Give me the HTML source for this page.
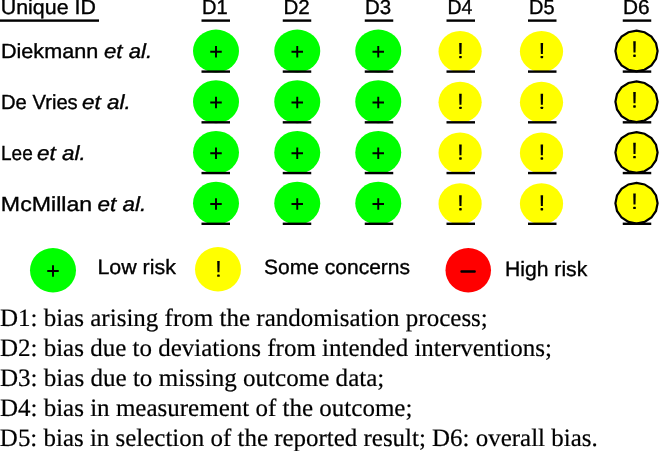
<!DOCTYPE html>
<html><head><meta charset="utf-8"><style>
html,body{margin:0;padding:0;background:#fff;width:660px;height:451px;overflow:hidden}
svg{display:block;will-change:transform}
text{font-family:"Liberation Sans", sans-serif;fill:#000;stroke:#000;stroke-width:0.35px;text-rendering:geometricPrecision}
text.r{font-family:"Liberation Serif", serif;stroke-width:0.2px}
</style></head><body>
<svg width="660" height="451" viewBox="0 0 660 451">
<g class="s">
<text x="0.75" y="14.4" font-size="20.3" textLength="95.12" lengthAdjust="spacingAndGlyphs">Unique ID</text>
<rect x="0" y="19.4" width="99" height="2.4" fill="#000"/>
<text x="202.01" y="14.4" font-size="20.3" textLength="25.66" lengthAdjust="spacingAndGlyphs">D1</text>
<rect x="201.5" y="19.4" width="28.5" height="2.4" fill="#000"/>
<text x="283.49" y="14.4" font-size="20.3" textLength="26.26" lengthAdjust="spacingAndGlyphs">D2</text>
<rect x="282.75" y="19.4" width="28.5" height="2.4" fill="#000"/>
<text x="364.99" y="14.4" font-size="20.3" textLength="26.14" lengthAdjust="spacingAndGlyphs">D3</text>
<rect x="364.75" y="19.4" width="28.5" height="2.4" fill="#000"/>
<text x="447.54" y="14.4" font-size="20.3" textLength="24.9" lengthAdjust="spacingAndGlyphs">D4</text>
<rect x="446.5" y="19.4" width="28.5" height="2.4" fill="#000"/>
<text x="529.02" y="14.4" font-size="20.3" textLength="25.54" lengthAdjust="spacingAndGlyphs">D5</text>
<rect x="528.0" y="19.4" width="28.5" height="2.4" fill="#000"/>
<text x="622.97" y="14.4" font-size="20.3" textLength="26.64" lengthAdjust="spacingAndGlyphs">D6</text>
<rect x="622.75" y="19.4" width="28.5" height="2.4" fill="#000"/>
<text x="0.93" y="58.2" font-size="20.3" textLength="97.31" lengthAdjust="spacingAndGlyphs">Diekmann</text>
<text x="104.0" y="58.2" font-size="20.3" font-style="italic" textLength="48.17" lengthAdjust="spacingAndGlyphs">et al.</text>
<ellipse cx="216" cy="51.0" rx="23" ry="21.5" fill="#00ff00"/>
<path d="M210.25 51.75H221.75M216 45.95V57.55" stroke="#000" stroke-width="1.9" fill="none"/>
<rect x="201.5" y="70.4" width="28.5" height="2.4" fill="#000"/>
<ellipse cx="297.25" cy="51.0" rx="23" ry="21.5" fill="#00ff00"/>
<path d="M291.5 51.75H303.0M297.25 45.95V57.55" stroke="#000" stroke-width="1.9" fill="none"/>
<rect x="282.75" y="70.4" width="28.5" height="2.4" fill="#000"/>
<ellipse cx="378.25" cy="51.0" rx="23" ry="21.5" fill="#00ff00"/>
<path d="M372.5 51.75H384.0M378.25 45.95V57.55" stroke="#000" stroke-width="1.9" fill="none"/>
<rect x="364.75" y="70.4" width="28.5" height="2.4" fill="#000"/>
<ellipse cx="460.1" cy="51.5" rx="21.6" ry="20.5" fill="#ffff00"/>
<path d="M459.20 43.10H461.70L461.45 53.90H459.45Z" fill="#000"/>
<rect x="459.15" y="55.90" width="2.6" height="2.30" rx="0.6" fill="#000"/>
<rect x="446.5" y="70.4" width="28.5" height="2.4" fill="#000"/>
<ellipse cx="541.5" cy="51.5" rx="21.6" ry="20.5" fill="#ffff00"/>
<path d="M540.60 43.10H543.10L542.85 53.90H540.85Z" fill="#000"/>
<rect x="540.55" y="55.90" width="2.6" height="2.30" rx="0.6" fill="#000"/>
<rect x="528.0" y="70.4" width="28.5" height="2.4" fill="#000"/>
<polygon points="636.50,30.70 644.57,32.25 651.42,36.65 655.99,43.23 657.60,51.00 655.99,58.77 651.42,65.35 644.57,69.75 636.50,71.30 628.43,69.75 621.58,65.35 617.01,58.77 615.40,51.00 617.01,43.23 621.58,36.65 628.43,32.25" fill="#ffff00" stroke="#000" stroke-width="2.2" stroke-linejoin="miter"/>
<path d="M633.25 41.20H635.75L635.50 52.43H633.50Z" fill="#000"/>
<rect x="633.20" y="54.51" width="2.6" height="2.39" rx="0.6" fill="#000"/>
<rect x="622.75" y="70.4" width="28.5" height="2.4" fill="#000"/>
<text x="1.0" y="109.0" font-size="20.3" textLength="76.72" lengthAdjust="spacingAndGlyphs">De Vries</text>
<text x="82.0" y="109.0" font-size="20.3" font-style="italic" textLength="48.7" lengthAdjust="spacingAndGlyphs">et al.</text>
<ellipse cx="216" cy="101.72999999999999" rx="23" ry="21.5" fill="#00ff00"/>
<path d="M210.25 102.47999999999999H221.75M216 96.67999999999999V108.27999999999999" stroke="#000" stroke-width="1.9" fill="none"/>
<rect x="201.5" y="121.13" width="28.5" height="2.4" fill="#000"/>
<ellipse cx="297.25" cy="101.72999999999999" rx="23" ry="21.5" fill="#00ff00"/>
<path d="M291.5 102.47999999999999H303.0M297.25 96.67999999999999V108.27999999999999" stroke="#000" stroke-width="1.9" fill="none"/>
<rect x="282.75" y="121.13" width="28.5" height="2.4" fill="#000"/>
<ellipse cx="378.25" cy="101.72999999999999" rx="23" ry="21.5" fill="#00ff00"/>
<path d="M372.5 102.47999999999999H384.0M378.25 96.67999999999999V108.27999999999999" stroke="#000" stroke-width="1.9" fill="none"/>
<rect x="364.75" y="121.13" width="28.5" height="2.4" fill="#000"/>
<ellipse cx="460.1" cy="102.22999999999999" rx="21.6" ry="20.5" fill="#ffff00"/>
<path d="M459.20 93.83H461.70L461.45 104.63H459.45Z" fill="#000"/>
<rect x="459.15" y="106.63" width="2.6" height="2.30" rx="0.6" fill="#000"/>
<rect x="446.5" y="121.13" width="28.5" height="2.4" fill="#000"/>
<ellipse cx="541.5" cy="102.22999999999999" rx="21.6" ry="20.5" fill="#ffff00"/>
<path d="M540.60 93.83H543.10L542.85 104.63H540.85Z" fill="#000"/>
<rect x="540.55" y="106.63" width="2.6" height="2.30" rx="0.6" fill="#000"/>
<rect x="528.0" y="121.13" width="28.5" height="2.4" fill="#000"/>
<polygon points="636.50,81.43 644.57,82.98 651.42,87.38 655.99,93.96 657.60,101.73 655.99,109.50 651.42,116.08 644.57,120.48 636.50,122.03 628.43,120.48 621.58,116.08 617.01,109.50 615.40,101.73 617.01,93.96 621.58,87.38 628.43,82.98" fill="#ffff00" stroke="#000" stroke-width="2.2" stroke-linejoin="miter"/>
<path d="M633.25 91.93H635.75L635.50 103.16H633.50Z" fill="#000"/>
<rect x="633.20" y="105.24" width="2.6" height="2.39" rx="0.6" fill="#000"/>
<rect x="622.75" y="121.13" width="28.5" height="2.4" fill="#000"/>
<text x="1.06" y="159.8" font-size="20.3" textLength="31.71" lengthAdjust="spacingAndGlyphs">Lee</text>
<text x="37.0" y="159.8" font-size="20.3" font-style="italic" textLength="48.7" lengthAdjust="spacingAndGlyphs">et al.</text>
<ellipse cx="216" cy="152.45999999999998" rx="23" ry="21.5" fill="#00ff00"/>
<path d="M210.25 153.20999999999998H221.75M216 147.40999999999997V159.01" stroke="#000" stroke-width="1.9" fill="none"/>
<rect x="201.5" y="171.86" width="28.5" height="2.4" fill="#000"/>
<ellipse cx="297.25" cy="152.45999999999998" rx="23" ry="21.5" fill="#00ff00"/>
<path d="M291.5 153.20999999999998H303.0M297.25 147.40999999999997V159.01" stroke="#000" stroke-width="1.9" fill="none"/>
<rect x="282.75" y="171.86" width="28.5" height="2.4" fill="#000"/>
<ellipse cx="378.25" cy="152.45999999999998" rx="23" ry="21.5" fill="#00ff00"/>
<path d="M372.5 153.20999999999998H384.0M378.25 147.40999999999997V159.01" stroke="#000" stroke-width="1.9" fill="none"/>
<rect x="364.75" y="171.86" width="28.5" height="2.4" fill="#000"/>
<ellipse cx="460.1" cy="152.95999999999998" rx="21.6" ry="20.5" fill="#ffff00"/>
<path d="M459.20 144.56H461.70L461.45 155.36H459.45Z" fill="#000"/>
<rect x="459.15" y="157.36" width="2.6" height="2.30" rx="0.6" fill="#000"/>
<rect x="446.5" y="171.86" width="28.5" height="2.4" fill="#000"/>
<ellipse cx="541.5" cy="152.95999999999998" rx="21.6" ry="20.5" fill="#ffff00"/>
<path d="M540.60 144.56H543.10L542.85 155.36H540.85Z" fill="#000"/>
<rect x="540.55" y="157.36" width="2.6" height="2.30" rx="0.6" fill="#000"/>
<rect x="528.0" y="171.86" width="28.5" height="2.4" fill="#000"/>
<polygon points="636.50,132.16 644.57,133.71 651.42,138.11 655.99,144.69 657.60,152.46 655.99,160.23 651.42,166.81 644.57,171.21 636.50,172.76 628.43,171.21 621.58,166.81 617.01,160.23 615.40,152.46 617.01,144.69 621.58,138.11 628.43,133.71" fill="#ffff00" stroke="#000" stroke-width="2.2" stroke-linejoin="miter"/>
<path d="M633.25 142.66H635.75L635.50 153.89H633.50Z" fill="#000"/>
<rect x="633.20" y="155.97" width="2.6" height="2.39" rx="0.6" fill="#000"/>
<rect x="622.75" y="171.86" width="28.5" height="2.4" fill="#000"/>
<text x="0.86" y="210.6" font-size="20.3" textLength="91.3" lengthAdjust="spacingAndGlyphs">McMillan</text>
<text x="97.5" y="210.6" font-size="20.3" font-style="italic" textLength="48.7" lengthAdjust="spacingAndGlyphs">et al.</text>
<ellipse cx="216" cy="203.19" rx="23" ry="21.5" fill="#00ff00"/>
<path d="M210.25 203.94H221.75M216 198.14V209.74" stroke="#000" stroke-width="1.9" fill="none"/>
<rect x="201.5" y="222.59" width="28.5" height="2.4" fill="#000"/>
<ellipse cx="297.25" cy="203.19" rx="23" ry="21.5" fill="#00ff00"/>
<path d="M291.5 203.94H303.0M297.25 198.14V209.74" stroke="#000" stroke-width="1.9" fill="none"/>
<rect x="282.75" y="222.59" width="28.5" height="2.4" fill="#000"/>
<ellipse cx="378.25" cy="203.19" rx="23" ry="21.5" fill="#00ff00"/>
<path d="M372.5 203.94H384.0M378.25 198.14V209.74" stroke="#000" stroke-width="1.9" fill="none"/>
<rect x="364.75" y="222.59" width="28.5" height="2.4" fill="#000"/>
<ellipse cx="460.1" cy="203.69" rx="21.6" ry="20.5" fill="#ffff00"/>
<path d="M459.20 195.29H461.70L461.45 206.09H459.45Z" fill="#000"/>
<rect x="459.15" y="208.09" width="2.6" height="2.30" rx="0.6" fill="#000"/>
<rect x="446.5" y="222.59" width="28.5" height="2.4" fill="#000"/>
<ellipse cx="541.5" cy="203.69" rx="21.6" ry="20.5" fill="#ffff00"/>
<path d="M540.60 195.29H543.10L542.85 206.09H540.85Z" fill="#000"/>
<rect x="540.55" y="208.09" width="2.6" height="2.30" rx="0.6" fill="#000"/>
<rect x="528.0" y="222.59" width="28.5" height="2.4" fill="#000"/>
<polygon points="636.50,182.89 644.57,184.44 651.42,188.84 655.99,195.42 657.60,203.19 655.99,210.96 651.42,217.54 644.57,221.94 636.50,223.49 628.43,221.94 621.58,217.54 617.01,210.96 615.40,203.19 617.01,195.42 621.58,188.84 628.43,184.44" fill="#ffff00" stroke="#000" stroke-width="2.2" stroke-linejoin="miter"/>
<path d="M633.25 193.39H635.75L635.50 204.62H633.50Z" fill="#000"/>
<rect x="633.20" y="206.70" width="2.6" height="2.39" rx="0.6" fill="#000"/>
<rect x="622.75" y="222.59" width="28.5" height="2.4" fill="#000"/>
<ellipse cx="53" cy="270.25" rx="23" ry="22.25" fill="#00ff00"/>
<path d="M47.25 271H58.75M53 265.2V276.8" stroke="#000" stroke-width="1.9" fill="none"/>
<text x="97.47" y="273.6" font-size="20.7" textLength="78.38" lengthAdjust="spacingAndGlyphs">Low risk</text>
<ellipse cx="218" cy="269.25" rx="23" ry="22.25" fill="#ffff00"/>
<path d="M217.20 261.10H219.70L219.45 272.33H217.45Z" fill="#000"/>
<rect x="217.15" y="274.41" width="2.6" height="2.39" rx="0.6" fill="#000"/>
<text x="264.05" y="273.6" font-size="20.7" textLength="145.96" lengthAdjust="spacingAndGlyphs">Some concerns</text>
<ellipse cx="468.25" cy="270.25" rx="22.75" ry="22.25" fill="#ff0000"/>
<rect x="460.4" y="270.2" width="15.4" height="2.6" rx="1" fill="#000"/>
<text x="504.98" y="275.6" font-size="20.7" textLength="82.28" lengthAdjust="spacingAndGlyphs">High risk</text>
<text class="r" x="-0.14" y="325.8" font-size="25" textLength="487.94" lengthAdjust="spacingAndGlyphs">D1: bias arising from the randomisation process;</text>
<text class="r" x="-0.14" y="355.8" font-size="25" textLength="552.04" lengthAdjust="spacingAndGlyphs">D2: bias due to deviations from intended interventions;</text>
<text class="r" x="-0.14" y="385.8" font-size="25" textLength="384.45" lengthAdjust="spacingAndGlyphs">D3: bias due to missing outcome data;</text>
<text class="r" x="-0.14" y="415.8" font-size="25" textLength="412.53" lengthAdjust="spacingAndGlyphs">D4: bias in measurement of the outcome;</text>
<text class="r" x="-0.13" y="445.8" font-size="25" textLength="597.79" lengthAdjust="spacingAndGlyphs">D5: bias in selection of the reported result; D6: overall bias.</text>
</g>
</svg>
</body></html>
